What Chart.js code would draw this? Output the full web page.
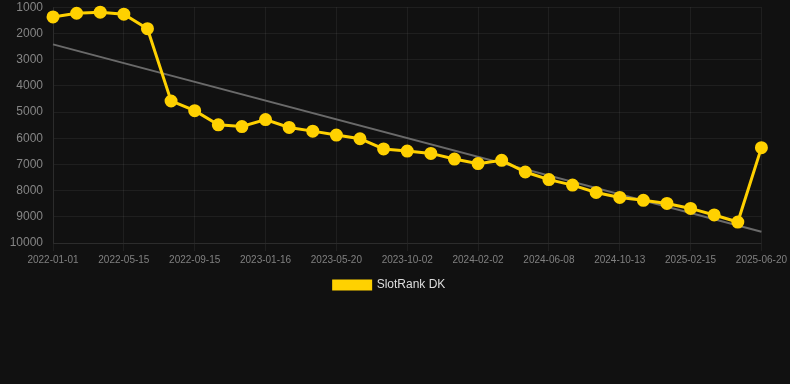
<!DOCTYPE html>
<html>
<head>
<meta charset="utf-8">
<script src="https://cdn.jsdelivr.net/npm/chart.js@4"></script>
<style>
  html, body { margin: 0; padding: 0; background: #111111; }
  #wrap { position: relative; width: 790px; height: 301px; }
</style>
</head>
<body>
<div id="wrap"><canvas id="chart"></canvas></div>
<script>
const dates = [
  '2022-01-01', '2022-02-15', '2022-03-31', '2022-05-15', '2022-06-25', '2022-08-05',
  '2022-09-15', '2022-10-26', '2022-12-06', '2023-01-16', '2023-02-26', '2023-04-08',
  '2023-05-20', '2023-07-04', '2023-08-18', '2023-10-02', '2023-11-12', '2023-12-23',
  '2024-02-02', '2024-03-15', '2024-04-27', '2024-06-08', '2024-07-20', '2024-09-01',
  '2024-10-13', '2024-11-24', '2025-01-05', '2025-02-15', '2025-03-28', '2025-05-09',
  '2025-06-20'
];

const rank = [
  1370, 1230, 1190, 1265, 1820, 4580, 4950, 5490, 5555, 5290,
  5590, 5730, 5880, 6020, 6410, 6490, 6580, 6795, 6970, 6845,
  7290, 7580, 7790, 8070, 8260, 8370, 8490, 8680, 8930, 9200,
  6360
];

// trend line: only the two ends, joined across the gaps
const trend = [2420, ...Array(29).fill(null), 9570];

const yTicks = [1000, 2000, 3000, 4000, 5000, 6000, 7000, 8000, 9000, 10000];

const yellow = '#ffd100';
const gridColor = 'rgba(255,255,255,0.06)';

new Chart(document.getElementById('chart').getContext('2d'), {
  type: 'line',
  data: {
    labels: dates,
    datasets: [
      {
        label: 'SlotRank DK',
        data: rank,
        borderColor: yellow,
        backgroundColor: yellow,
        borderWidth: 3,
        pointRadius: 5,
        pointHoverRadius: 6,
        pointBackgroundColor: yellow,
        pointBorderColor: yellow,
        tension: 0,
        clip: false,
        order: 1
      },
      {
        label: 'trend',
        data: trend,
        borderColor: '#6a6a6a',
        borderWidth: 2,
        pointRadius: 0,
        spanGaps: true,
        order: 2
      }
    ]
  },
  options: {
    responsive: true,
    maintainAspectRatio: false,
    animation: false,
    layout: { autoPadding: false, padding: { top: -1, right: 4, left: -7, bottom: 0 } },
    plugins: {
      tooltip: { enabled: false },
      legend: {
        position: 'bottom',
        labels: {
          color: '#dddddd',
          font: { family: 'Liberation Sans, Arial, sans-serif', size: 12 },
          boxWidth: 37,
          boxHeight: 8,
          filter: item => item.text !== 'trend'
        }
      }
    },
    scales: {
      x: {
        grid: { color: gridColor, tickLength: 8 },
        border: { color: gridColor },
        ticks: {
          color: '#808080',
          font: { family: 'Liberation Sans, Arial, sans-serif', size: 10 },
          maxRotation: 0,
          autoSkip: true,
          maxTicksLimit: 11
        }
      },
      y: {
        reverse: true,
        min: 1000,
        max: 10000,
        afterBuildTicks: axis => { axis.ticks = yTicks.map(v => ({ value: v })); },
        afterFit: axis => { axis.width = 60; },
        grid: { color: gridColor, drawTicks: true, tickLength: 10, tickColor: 'transparent' },
        border: { color: gridColor },
        ticks: {
          color: '#858585',
          padding: 0,
          font: { family: 'Liberation Sans, Arial, sans-serif', size: 12 },
          callback: v => String(v)
        }
      }
    }
  }
});
</script>
</body>
</html>
